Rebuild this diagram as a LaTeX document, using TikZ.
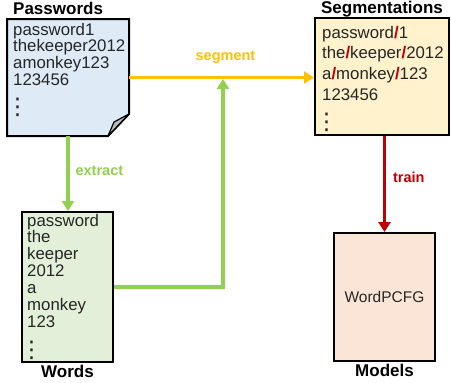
\documentclass[tikz,border=0pt]{standalone}
\usepackage{fontspec}
\setmainfont{Liberation Sans}
\newfontfamily\dejavu{DejaVu Sans}
\usetikzlibrary{arrows.meta,positioning}
\definecolor{pwblue}{HTML}{DEEBF7}
\definecolor{segyellow}{HTML}{FFF2CC}
\definecolor{wdgreen}{HTML}{E2F0D9}
\definecolor{mdpink}{HTML}{FBE5D6}
\definecolor{segorange}{HTML}{FFC000}
\definecolor{extgreen}{HTML}{92D050}
\definecolor{trainred}{HTML}{C00000}
\definecolor{txtgray}{HTML}{262626}
\newcommand{\segslash}{{\color{trainred}\bfseries/}}
\newcommand{\dotcol}{\hspace*{-7pt}{\dejavu\fontsize{23}{23}\selectfont ⋮}}
\begin{document}
\begin{tikzpicture}[x=1pt,y=-1pt,
	box/.style={draw=black,line width=2pt,inner sep=0pt},
	listtext/.style={anchor=base west,inner sep=0pt,align=left,text width=3cm,text=txtgray,font=\fontsize{16.8}{16.8}\selectfont},
	title/.style={inner sep=0pt,font=\bfseries\fontsize{17}{18}\selectfont},
	flow/.style={line width=3.2pt,-{Triangle[length=10pt,width=12pt]}},
	lab/.style={inner sep=0pt,font=\bfseries\fontsize{14.5}{16}\selectfont}]
		\useasboundingbox (0,0) rectangle (451,383);
		% boxes
		\node[box,draw=none,minimum width=120pt,minimum height=115pt] (pw) at (68,77.5) {};
		\node[box,fill=segyellow,minimum width=134pt,minimum height=117pt] (seg) at (382,76.5) {};
		\node[box,fill=wdgreen,minimum width=91pt,minimum height=150pt] (wd) at (67.5,287) {};
		\node[box,fill=mdpink,minimum width=101pt,minimum height=128pt,text=txtgray,font=\fontsize{15.5}{17}\selectfont] (md) at (384.5,297) {WordPCFG};
		% folded corner
		\draw[line width=2pt,fill=pwblue,line join=miter] (pw.north west) -- (pw.north east) -- ([yshift=22pt]pw.south east) -- ([xshift=-21pt]pw.south east) -- (pw.south west) -- cycle;
		\draw[line width=1.2pt,fill=gray!55,line join=round] ([yshift=22pt]pw.south east) -- ([xshift=-21pt]pw.south east) -- ([xshift=-15pt,yshift=14pt]pw.south east) -- cycle;
		% titles
		\node[title,above right=4pt and 6pt of pw.north west,anchor=south west] (pwt) {Passwords};
		\node[title,above=0pt of seg] (segt) {Segmentations};
		\node[title,below=2pt of wd] (wdt) {Words};
		\node[title,below=2pt of md] (mdt) {Models};
		% contents
		\node[listtext] (pwl) at ([xshift=6pt,yshift=-16pt]pw.north west) {password1\\thekeeper2012\\amonkey123\\123456\\[12pt]\dotcol};
		\node[listtext,font=\fontsize{16.8}{20.8}\selectfont] (segl) at ([xshift=8pt,yshift=-21pt]seg.north west) {password\segslash1\\the\segslash keeper\segslash2012\\a\segslash monkey\segslash123\\123456\\[8pt]\dotcol};
		\node[listtext,font=\fontsize{16.8}{16.9}\selectfont] (wdl) at ([xshift=6pt,yshift=-15pt]wd.north west) {password\\the\\keeper\\2012\\a\\monkey\\123\\[13pt]\dotcol};
		% arrows
		\coordinate (jn) at (223,79);
		\draw[flow,segorange] (pw.east) -- (pw.east -| seg.west) node[midway,lab,above=12pt,xshift=4pt] {segment};
		\draw[flow,extgreen] (pw.south) -- (pw.south |- wd.north) node[midway,lab,right=6pt,yshift=3pt] {extract};
		\draw[flow,extgreen] (wd.east) -| (jn);
		\draw[flow,trainred] (md.north |- seg.south) -- (md.north) node[midway,lab,right=7pt,yshift=7pt] {train};
\end{tikzpicture}
\end{document}
